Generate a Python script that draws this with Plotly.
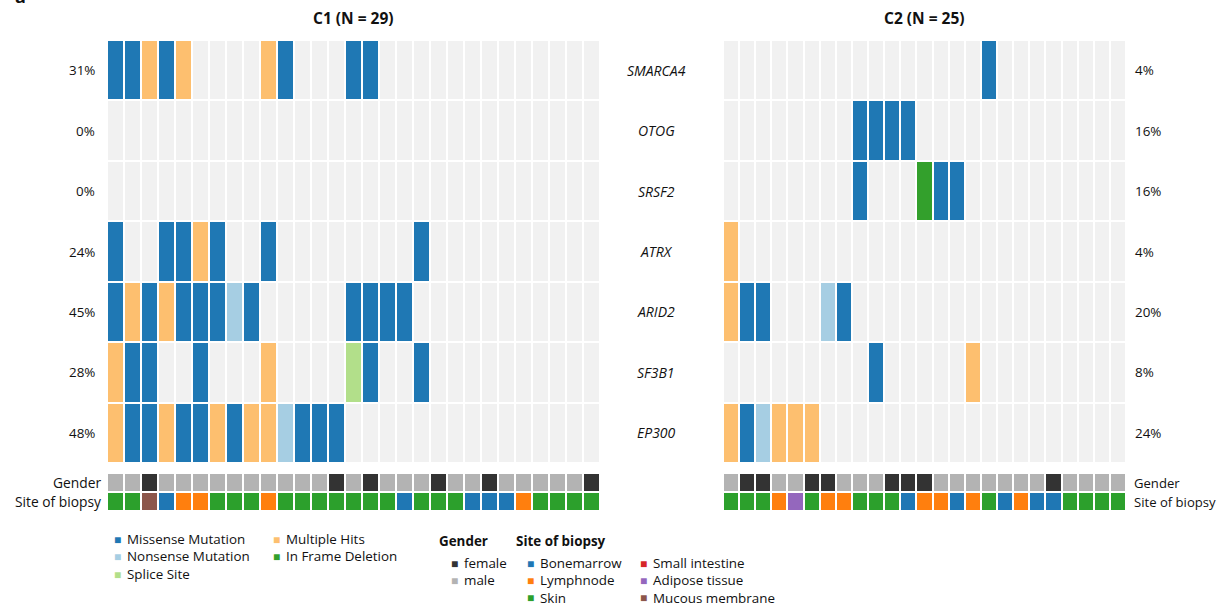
import plotly.graph_objects as go

W, H = 1219, 606

# ---------------- data ----------------
genes = ["SMARCA4", "OTOG", "SRSF2", "ATRX", "ARID2", "SF3B1", "EP300"]

# mutation codes: '.' none, M missense, N nonsense, S splice site, H multiple hits, D in-frame deletion
mut_codes = [".", "M", "N", "S", "H", "D"]
mut_labels = ["None", "Missense Mutation", "Nonsense Mutation", "Splice Site",
              "Multiple Hits", "In Frame Deletion"]
mut_colors = ["#f1f1f1", "#1f78b4", "#a6cee3", "#b2df8a", "#fdbf6f", "#33a02c"]

c1_rows = [
    "MMHMH....HM...MM.............",   # SMARCA4
    ".............................",   # OTOG
    ".............................",   # SRSF2
    "M..MMHM..M........M..........",   # ATRX
    "MHMHMMMNM.....MMMM...........",   # ARID2
    "HMM..M...H....SM..M..........",   # SF3B1
    "HMMHMMHMHHNMMM...............",   # EP300
]
c2_rows = [
    "................M........",       # SMARCA4
    "........MMMM.............",       # OTOG
    "........M...DMM..........",       # SRSF2
    "H........................",       # ATRX
    "HMM...NM.................",       # ARID2
    ".........M.....H.........",       # SF3B1
    "HMNHHH...................",       # EP300
]

# annotation codes
gender_codes = ["f", "m"]
gender_labels = ["female", "male"]
gender_colors = ["#333333", "#b3b3b3"]
site_codes = ["B", "L", "K", "I", "A", "U"]
site_labels = ["Bonemarrow", "Lymphnode", "Skin", "Small intestine",
               "Adipose tissue", "Mucous membrane"]
site_colors = ["#1f77b4", "#ff7f0e", "#2ca02c", "#d62728", "#9467bd", "#8c564b"]

c1_gender = "mmfmmmmmmmmmmfmfmmmfmmfmmmmmf"
c1_site = "KKUBLLKKKLKKKKKKKBKKKBBBLKKKK"
c2_gender = "mffmmffmmmfffmmmmmmmfmmmm"
c2_site = "KKKLAKLLKKKBLLBLKBLBBKKKK"

annot_rows = ["Gender", "Site of biopsy"]

# ---------------- helpers ----------------
FONT = "Open Sans"
TXT = 13.4


def px(x):
    return x / W


def py(y):
    return 1 - y / H


def discrete_scale(colors):
    n = len(colors)
    cs = []
    for i, c in enumerate(colors):
        cs.append([i / n, c])
        cs.append([(i + 1) / n, c])
    return cs


def mut_z(rows):
    return [[mut_codes.index(ch) for ch in r] for r in rows]


def annot_z(gender, site):
    return [[gender_codes.index(ch) for ch in gender],
            [len(gender_codes) + site_codes.index(ch) for ch in site]]


annot_colors = gender_colors + site_colors

fig = go.Figure()

cohorts = [
    dict(rows=c1_rows, gender=c1_gender, site=c1_site, xa="x", ya="y", xb="x2", yb="y2"),
    dict(rows=c2_rows, gender=c2_gender, site=c2_site, xa="x3", ya="y3", xb="x4", yb="y4"),
]

for c in cohorts:
    n = len(c["rows"][0])
    fig.add_trace(go.Heatmap(
        z=mut_z(c["rows"]), x=list(range(n)), y=list(range(len(genes))),
        colorscale=discrete_scale(mut_colors), zmin=-0.5, zmax=len(mut_colors) - 0.5,
        showscale=False, xgap=2, ygap=2, hoverinfo="skip",
        xaxis=c["xa"], yaxis=c["ya"]))
    fig.add_trace(go.Heatmap(
        z=annot_z(c["gender"], c["site"]), x=list(range(n)), y=[0, 1],
        colorscale=discrete_scale(annot_colors), zmin=-0.5, zmax=len(annot_colors) - 0.5,
        showscale=False, xgap=2, ygap=2, hoverinfo="skip",
        xaxis=c["xb"], yaxis=c["yb"]))

c1_left, c1_right = 107, 600
c2_left, c2_right = 723, 1126
grid_top, grid_bot = 40, 463
ann_top, ann_bot = 473, 511

hid = dict(visible=False, showgrid=False, zeroline=False, fixedrange=True)
n1 = len(c1_rows[0])
n2 = len(c2_rows[0])
fig.update_layout(
    width=W, height=H, margin=dict(l=0, r=0, t=0, b=0),
    paper_bgcolor="white", plot_bgcolor="white",
    font=dict(family=FONT, size=TXT, color="#111111"),
    showlegend=False,
    xaxis=dict(hid, domain=[px(c1_left), px(c1_right)], range=[-0.5, n1 - 0.5], anchor="y"),
    yaxis=dict(hid, domain=[py(grid_bot), py(grid_top)], range=[len(genes) - 0.5, -0.5], anchor="x"),
    xaxis2=dict(hid, domain=[px(c1_left), px(c1_right)], range=[-0.5, n1 - 0.5], anchor="y2"),
    yaxis2=dict(hid, domain=[py(ann_bot), py(ann_top)], range=[1.5, -0.5], anchor="x2"),
    xaxis3=dict(hid, domain=[px(c2_left), px(c2_right)], range=[-0.5, n2 - 0.5], anchor="y3"),
    yaxis3=dict(hid, domain=[py(grid_bot), py(grid_top)], range=[len(genes) - 0.5, -0.5], anchor="x3"),
    xaxis4=dict(hid, domain=[px(c2_left), px(c2_right)], range=[-0.5, n2 - 0.5], anchor="y4"),
    yaxis4=dict(hid, domain=[py(ann_bot), py(ann_top)], range=[1.5, -0.5], anchor="x4"),
)

ann = []


def add_text(text, x, y, xref="paper", yref="paper", xanchor="left", size=TXT,
             color="#111111", pad=1):
    ann.append(dict(text=text, x=x, y=y, xref=xref, yref=yref, xanchor=xanchor,
                    yanchor="middle", showarrow=False, borderpad=pad,
                    font=dict(family=FONT, size=size, color=color)))


# panel tag (cut off at the top edge in the reference)
add_text("<b>a</b>", px(20), py(-4), xanchor="center", size=18)

# titles
add_text("<b>C1 (N = %d)</b>" % n1, px((c1_left + c1_right) / 2), py(18), xanchor="center", size=15.5)
add_text("<b>C2 (N = %d)</b>" % n2, px((c2_left + c2_right) / 2), py(18), xanchor="center", size=15.5)

# percentages and gene names
for i, g in enumerate(genes):
    p1 = round(100 * sum(ch != "." for ch in c1_rows[i]) / n1)
    p2 = round(100 * sum(ch != "." for ch in c2_rows[i]) / n2)
    add_text("%d%%" % p1, px(97), i, yref="y", xanchor="right")
    add_text("<i>%s</i>" % g, px(656), i, yref="y3", xanchor="center", size=14)
    add_text("%d%%" % p2, px(1133), i, yref="y3", xanchor="left")

for i, r in enumerate(annot_rows):
    add_text(r, px(103), i, yref="y2", xanchor="right", size=13.8)
    add_text(r, px(1132), i, yref="y4", xanchor="left", size=13.1)

# legends
SQ = 12


def legend_item(color, label, sx, y):
    add_text("■", px(sx), py(y), xanchor="center", size=SQ, color=color, pad=0)
    add_text(label, px(sx + 9), py(y), xanchor="left", pad=0)


mut_legend_pos = [(117, 539), (117, 556), (117, 574), (276, 539), (276, 556)]
for (sx, y), lab, col in zip(mut_legend_pos, mut_labels[1:], mut_colors[1:]):
    legend_item(col, lab, sx, y)

add_text("<b>Gender</b>", px(437), py(541))
for k, (lab, col) in enumerate(zip(gender_labels, gender_colors)):
    legend_item(col, lab, 454, 563 + 17.3 * k)

add_text("<b>Site of biopsy</b>", px(514), py(541))
for k, (lab, col) in enumerate(zip(site_labels, site_colors)):
    sx = 530 if k < 3 else 643
    legend_item(col, lab, sx, 563 + 17.3 * (k % 3))

fig.update_layout(annotations=ann)
fig.write_html("out.html", config={"displayModeBar": False},
               post_script="document.body.style.margin='0px';")
